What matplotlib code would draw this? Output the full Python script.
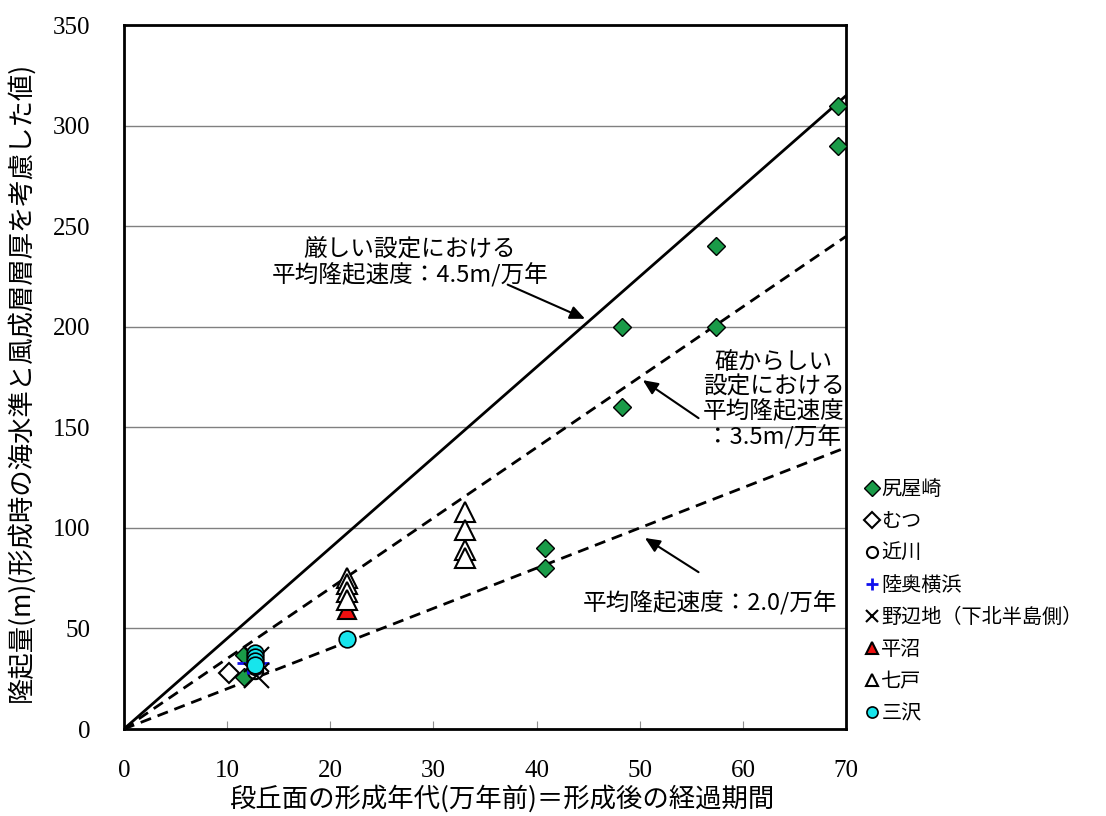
import numpy as np
import matplotlib
matplotlib.use('Agg')
import matplotlib.pyplot as plt

plt.rcParams['font.family'] = ['Noto Sans CJK JP', 'DejaVu Sans']

# --- data ---
shiriyazaki_x = [69.2, 69.2, 57.4, 57.4, 48.3, 48.3, 40.8, 40.8, 11.6, 11.6]
shiriyazaki_y = [310, 290, 240, 200, 200, 160, 90, 80, 37, 26]
mutsu_x = [10.2]
mutsu_y = [28]
chikagawa_x = [12.7, 12.7]
chikagawa_y = [29, 31]
mutsuyokohama_x = [12.0, 13.0]
mutsuyokohama_y = [33, 33]
noheji_x = [12.8, 12.8]
noheji_y = [35, 27]
hiranuma_x = [21.6]
hiranuma_y = [59]
shichinohe_x = [21.6, 21.6, 21.6, 21.6, 33.1, 33.1, 33.1, 33.1]
shichinohe_y = [75, 72, 68, 64, 108, 99, 89, 85]
misawa_x = [12.7, 12.7, 12.7, 12.7, 21.6]
misawa_y = [38, 36, 34, 32, 45]

rate_strict = 4.5
rate_likely = 3.5
rate_mean = 2.0

fig = plt.figure(figsize=(11.06, 8.16), dpi=100)
ax = fig.add_axes([0.112, 0.1066, 0.653, 0.8625])

# Reference lines through the origin
line_x = np.array([0, 70])
ax.plot(line_x, rate_strict * line_x, color='black', linewidth=2, zorder=2)
ax.plot(line_x, rate_likely * line_x, color='black', linewidth=2,
        linestyle=(0, (4, 2.5)), zorder=2)
ax.plot(line_x, rate_mean * line_x, color='black', linewidth=2,
        linestyle=(0, (4, 2.5)), zorder=2)

# Site markers
ax.plot(shiriyazaki_x, shiriyazaki_y, 'D', markersize=9, markerfacecolor='#1a9b48',
        markeredgecolor='black', markeredgewidth=1, label='尻屋崎', zorder=4)
ax.plot(mutsu_x, mutsu_y, 'D', markersize=10, markerfacecolor='white',
        markeredgecolor='black', markeredgewidth=1.5, label='むつ', zorder=4)
ax.plot(chikagawa_x, chikagawa_y, 'o', markersize=11, markerfacecolor='white',
        markeredgecolor='black', markeredgewidth=1.5, label='近川', zorder=4)
ax.plot(mutsuyokohama_x, mutsuyokohama_y, '+', markersize=16, color='#1010ee',
        markeredgewidth=2, label='陸奥横浜', zorder=4)
ax.plot(noheji_x, noheji_y, 'x', markersize=18, color='black',
        markeredgewidth=1.5, label='野辺地（下北半島側）', zorder=5)
ax.plot(hiranuma_x, hiranuma_y, '^', markersize=13, markerfacecolor='#ee1010',
        markeredgecolor='black', markeredgewidth=1.5, label='平沼', zorder=4)
ax.plot(shichinohe_x, shichinohe_y, '^', markersize=14, markerfacecolor='white',
        markeredgecolor='black', markeredgewidth=1.5, label='七戸', zorder=4)
ax.plot(misawa_x, misawa_y, 'o', markersize=12, markerfacecolor='#17e5ec',
        markeredgecolor='black', markeredgewidth=1.2, label='三沢', zorder=6)

# Annotations: text blocks and separate arrows
arrow_style = dict(arrowstyle='-|>,head_length=0.9,head_width=0.4',
                   color='black', lw=1.5, shrinkA=0, shrinkB=0)
ax.text(27.7, 232, '厳しい設定における\n平均隆起速度：4.5m/万年', fontsize=17,
        ha='center', va='center', linespacing=1.1, zorder=7)
ax.annotate('', xy=(44.7, 204), xytext=(37.2, 221), arrowprops=arrow_style, zorder=7)

ax.text(63.0, 163.5, '確からしい\n設定における\n平均隆起速度\n：3.5m/万年', fontsize=17,
        ha='center', va='center', linespacing=1.1, zorder=7)
ax.annotate('', xy=(50.3, 173.5), xytext=(55.7, 154.6), arrowprops=arrow_style, zorder=7)

ax.text(56.8, 62.5, '平均隆起速度：2.0/万年', fontsize=17,
        ha='center', va='center', zorder=7)
ax.annotate('', xy=(50.5, 95), xytext=(55.7, 78), arrowprops=arrow_style, zorder=7)

ax.set_xlim(0, 70)
ax.set_ylim(0, 350)
ax.set_xticks(np.arange(0, 71, 10))
ax.set_yticks(np.arange(0, 351, 50))
ax.grid(True, axis='y', color='#808080', linewidth=1)
ax.set_axisbelow(True)
ax.tick_params(axis='x', direction='in', color='#909090', length=6, pad=22, labelsize=18)
ax.tick_params(axis='y', length=0, pad=24, labelsize=18)
for lbl in ax.get_xticklabels() + ax.get_yticklabels():
    lbl.set_fontfamily('Liberation Serif')
for side in ['left', 'bottom', 'top', 'right']:
    ax.spines[side].set_linewidth(2)
    ax.spines[side].set_color('black')

# Axis titles placed in figure coordinates
fig.text(0.454, 0.021, '段丘面の形成年代(万年前)＝形成後の経過期間', fontsize=19,
         ha='center', va='center')
fig.text(0.019, 0.532, '隆起量(m)(形成時の海水準と風成層層厚を考慮した値)', fontsize=19,
         ha='center', va='center', rotation=90)

leg = fig.legend(loc='upper left', bbox_to_anchor=(0.776, 0.423), frameon=False,
                 fontsize=14.5, handlelength=0.6, handletextpad=0.15, labelspacing=0.55,
                 borderaxespad=0)
for h in leg.legend_handles:
    h.set_markersize(8)

fig.savefig('out.png', dpi=100)
